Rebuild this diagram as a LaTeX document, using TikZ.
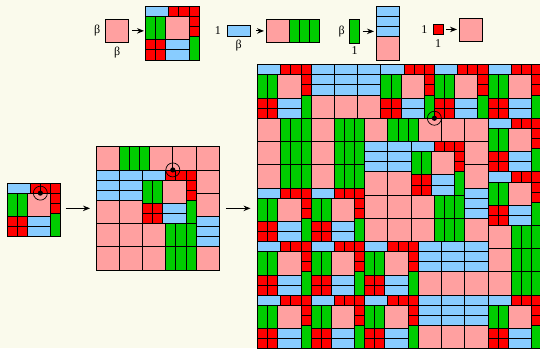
\documentclass[tikz,border=0pt]{standalone}
\usepackage{fontspec}
\setmainfont{Liberation Serif}
\usetikzlibrary{arrows.meta,positioning}

\definecolor{paper}{RGB}{250,250,236}
\definecolor{sqpink}{RGB}{255,160,160}
\definecolor{barblue}{RGB}{136,204,255}
\definecolor{bargreen}{RGB}{0,204,0}
\definecolor{sqred}{RGB}{255,0,0}

\pgfmathsetmacro\gb{(1+sqrt(13))/2}% beta, beta^2 = beta+3
\def\tu{10.1pt}% side of the small red square

\tikzset{
  tilebox/.style={draw=black, line width=0.8pt},
  holder/.style 2 args={inner sep=0pt, outer sep=0pt, minimum width=#1, minimum height=#2, anchor=south west},
  lbl/.style={inner sep=1pt, font=\fontsize{12}{14}\selectfont},
  maparrow/.style={-{Stealth[length=7pt,width=5.5pt]}, line width=0.9pt},
  unitgrid/.style={x=\tu, y=\tu},
  ring/.style={draw=black, line width=0.7pt},
}

% one tile, lower left corner at (#1,#2)
\newcommand\tileP[2]{\path[tilebox, fill=sqpink] (#1,#2) rectangle ++(\gb,\gb);}
\newcommand\tileB[2]{\path[tilebox, fill=barblue] (#1,#2) rectangle ++(\gb,1);}
\newcommand\tileG[2]{\path[tilebox, fill=bargreen] (#1,#2) rectangle ++(1,\gb);}
\newcommand\tileR[2]{\path[tilebox, fill=sqred] (#1,#2) rectangle ++(1,1);}

% \inflate{type}{x}{y}{steps}
\newcommand\inflate[4]{%
  \ifnum#4=0
    \csname tile#1\endcsname{#2}{#3}%
  \else
    \begingroup
      \edef\curx{#2}\edef\cury{#3}%
      \pgfmathtruncatemacro\curd{#4-1}%
      \pgfmathsetmacro\cursc{\gb^\curd}%
      \csname rule#1\endcsname
    \endgroup
  \fi}
\newcommand\piece[3]{%
  \begingroup
    \pgfmathsetmacro\nx{\curx+\cursc*(#2)}%
    \pgfmathsetmacro\ny{\cury+\cursc*(#3)}%
    \inflate{#1}{\nx}{\ny}{\curd}%
  \endgroup}

% substitution rules
\newcommand\ruleP{%
  \piece B{0}{\gb+2}%
  \piece R{\gb}{\gb+2}\piece R{\gb+1}{\gb+2}\piece R{\gb+2}{\gb+2}%
  \piece G{0}{2}\piece G{1}{2}\piece P{2}{2}%
  \piece R{\gb+2}{\gb+1}\piece R{\gb+2}{\gb}\piece G{\gb+2}{0}%
  \piece R{0}{0}\piece R{1}{0}\piece R{0}{1}\piece R{1}{1}%
  \piece B{2}{0}\piece B{2}{1}}
\newcommand\ruleB{\piece P{0}{0}\piece G{\gb}{0}\piece G{\gb+1}{0}\piece G{\gb+2}{0}}
\newcommand\ruleG{\piece P{0}{0}\piece B{0}{\gb}\piece B{0}{\gb+1}\piece B{0}{\gb+2}}
\newcommand\ruleR{\piece P{0}{0}}

\begin{document}
\begin{tikzpicture}[x=1pt, y=1pt]
\useasboundingbox (0,0) rectangle (540,348);
\fill[paper] (0,0) rectangle (540,348);
\clip (0,0) rectangle (540,348);

% the four rules
\node[holder={\gb*\tu}{\gb*\tu}] (rpink) at (105.5,305.5) {};
\node[holder={\gb*\gb*\tu}{\gb*\gb*\tu}] (rpinkimg) at (145.5,288) {};
\node[holder={\gb*\tu}{\tu}] (rblue) at (227,312) {};
\node[holder={\gb*\gb*\tu}{\gb*\tu}] (rblueimg) at (266,305.5) {};
\node[holder={\tu}{\gb*\tu}] (rgreen) at (349.5,305) {};
\node[holder={\gb*\tu}{\gb*\gb*\tu}] (rgreenimg) at (376,288) {};
\node[holder={\tu}{\tu}] (rred) at (433,313.5) {};
\node[holder={\gb*\tu}{\gb*\tu}] (rredimg) at (459,306.5) {};

\begin{scope}[shift={(rpink.south west)}, unitgrid] \inflate P{0}{0}{0} \end{scope}
\begin{scope}[shift={(rpinkimg.south west)}, unitgrid] \inflate P{0}{0}{1} \end{scope}
\begin{scope}[shift={(rblue.south west)}, unitgrid] \inflate B{0}{0}{0} \end{scope}
\begin{scope}[shift={(rblueimg.south west)}, unitgrid] \inflate B{0}{0}{1} \end{scope}
\begin{scope}[shift={(rgreen.south west)}, unitgrid] \inflate G{0}{0}{0} \end{scope}
\begin{scope}[shift={(rgreenimg.south west)}, unitgrid] \inflate G{0}{0}{1} \end{scope}
\begin{scope}[shift={(rred.south west)}, unitgrid] \inflate R{0}{0}{0} \end{scope}
\begin{scope}[shift={(rredimg.south west)}, unitgrid] \inflate R{0}{0}{1} \end{scope}

\node[lbl, left=4pt of rpink] (rpinkw) {β};
\node[lbl, below=3pt of rpink] (rpinkh) {β};
\node[lbl, left=5pt of rblue] (rbluew) {1};
\node[lbl, below=2.5pt of rblue] (rblueh) {β};
\node[lbl, left=3.5pt of rgreen] (rgreenw) {β};
\node[lbl, below=2.5pt of rgreen] (rgreenh) {1};
\node[lbl, left=4.5pt of rred] (rredw) {1};
\node[lbl, below=4pt of rred] (rredh) {1};

\draw[maparrow, shorten <=3pt, shorten >=1.5pt] (rpink.east) -- (rpink.east -| rpinkimg.west);
\draw[maparrow, shorten <=6pt, shorten >=2pt] (rblue.east) -- (rblue.east -| rblueimg.west);
\draw[maparrow, shorten <=3pt, shorten >=2pt] (rgreen.east) -- (rgreen.east -| rgreenimg.west);
\draw[maparrow, shorten <=3pt, shorten >=2pt] (rred.east) -- (rred.east -| rredimg.west);

% three steps
\node[holder={\gb^2*\tu}{\gb^2*\tu}] (stageone) at (7,111.4) {};
\node[holder={\gb^3*\tu}{\gb^3*\tu}] (stagetwo) at (96,78) {};
\node[holder={\gb^4*\tu}{\gb^4*\tu}] (stagethree) at (257.5,-0.7) {};

\begin{scope}[shift={(stageone.south west)}, unitgrid]
  \inflate P{0}{0}{1}
  \coordinate (hubone) at (\gb+1,\gb+2);
\end{scope}
\begin{scope}[shift={(stagetwo.south west)}, unitgrid]
  \inflate P{0}{0}{2}
  \coordinate (hubtwo) at (\gb*\gb+\gb,\gb*\gb+2*\gb);
\end{scope}
\begin{scope}[shift={(stagethree.south west)}, unitgrid]
  \inflate P{0}{0}{3}
  \coordinate (hubthree) at (\gb^3+\gb^2,\gb^3+2*\gb^2);
\end{scope}

\foreach \h in {hubone,hubtwo,hubthree}{
  \fill (\h) circle[radius=2.6pt];
  \draw[ring] (\h) circle[radius=7pt];
}

\draw[maparrow, shorten <=5pt, shorten >=6pt] (stagetwo.west -| stageone.east) -- (stagetwo.west);
\draw[maparrow, shorten <=6.5pt, shorten >=7pt] (stagetwo.east) -- (stagetwo.east -| stagethree.west);
\end{tikzpicture}
\end{document}
